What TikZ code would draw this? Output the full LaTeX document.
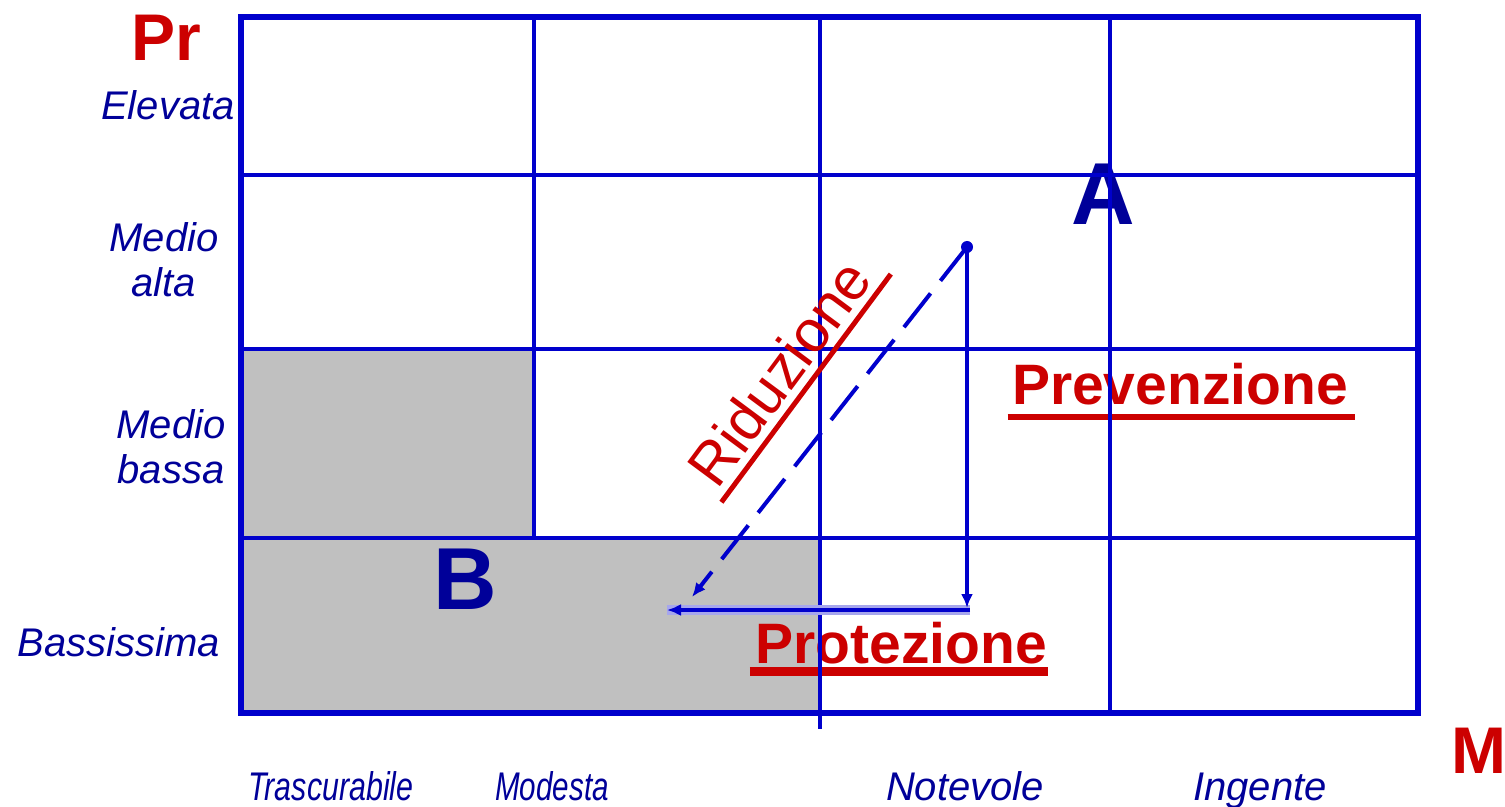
\documentclass[tikz,border=0pt]{standalone}
\usepackage{fontspec}
\setmainfont{Liberation Sans}
\usetikzlibrary{arrows.meta,calc}
\definecolor{gridblue}{RGB}{0,0,204}
\definecolor{navy}{RGB}{0,0,153}
\definecolor{myred}{RGB}{204,0,0}
\definecolor{cellgray}{RGB}{192,192,192}
\begin{document}
\begin{tikzpicture}[x=0.5pt,y=-0.5pt,
  lbl/.style={font=\fontsize{20}{22.5}\selectfont\itshape, text=navy, inner sep=0pt, align=center},
  axislbl/.style={font=\fontsize{33}{36}\selectfont\bfseries, text=myred, inner sep=0pt},
  big/.style={font=\fontsize{44}{48}\selectfont\bfseries, text=navy, inner sep=0pt},
  act/.style={font=\fontsize{28.5}{32}\selectfont\bfseries, text=myred, inner sep=0pt},
  border/.style={draw=gridblue, line width=3pt},
  gline/.style={draw=gridblue, line width=1.75pt},
  arr/.style={draw=gridblue, line width=2pt, -{Latex[length=7pt,width=6pt]}},
  uline/.style={draw=myred}
]
\useasboundingbox (0,0) rectangle (1505,807);
% gray cells
\fill[cellgray] (241,349) rectangle (534,714);
\fill[cellgray] (534,538) rectangle (820,714);
% big letters and actions
\node[big, anchor=base] (A) at (1103,225) {A};
\node[big, anchor=base] (B) at (465,609) {B};
\node[act, anchor=base] (prev) at (1180,405) {Prevenzione};
\draw[uline, line width=3pt] ($(prev.base west)+(-4,12)$) -- ($(prev.base east)+(7,12)$);
\node[act, anchor=base] (prot) at (901,663) {Protezione};
\draw[uline, line width=4.5pt] ($(prot.base west)+(-5,8.5)$) -- ($(prot.base east)+(1,8.5)$);
% grid
\draw[gline] (534,16) -- (534,538);
\draw[gline] (820,16) -- (820,729);
\draw[gline] (1110,16) -- (1110,714);
\draw[gline] (241,175) -- (1419,175);
\draw[gline] (241,349) -- (1419,349);
\draw[gline] (241,538) -- (1419,538);
\draw[border] (241,17) rectangle (1418,713);
% Riduzione
\node[font=\fontsize{29.5}{32}\selectfont, text=myred, inner sep=0pt, rotate=53.4, anchor=base] (rid) at (796,385) {Riduzione};
\coordinate (ru1) at ($(rid.base west)!5pt!-90:(rid.base east)$);
\coordinate (ru2) at ($(rid.base east)!5pt!90:(rid.base west)$);
\draw[uline, line width=2.5pt] ($(ru1)!-3.5pt!(ru2)$) -- ($(ru2)!-7pt!(ru1)$);
% labels
\node[axislbl, anchor=base] (pr) at (166,61) {Pr};
\node[axislbl, anchor=base west] (m) at (1451,773) {M};
\node[lbl, anchor=base] (l1) at (168,120) {Elevata};
\node[lbl] (l2) at (164,260) {Medio\\alta};
\node[lbl] (l3) at (171,447) {Medio\\bassa};
\node[lbl, anchor=base] (l4) at (119,656) {Bassissima};
\node[lbl, anchor=base, xscale=0.76] (c1) at (331,800) {Trascurabile};
\node[lbl, anchor=base, xscale=0.74] (c2) at (552,800) {Modesta};
\node[lbl, anchor=base] (c3) at (965,800) {Notevole};
\node[lbl, anchor=base] (c4) at (1260,800) {Ingente};
% arrows
\coordinate (top) at (967,247);
\coordinate (vend) at (967,608);
\coordinate (corner) at (970,610);
\coordinate (hend) at (667,610);
\coordinate (dend) at (692,597);
\draw[gridblue!35, line width=5pt] (corner) -- (hend);
\draw[arr] (corner) -- (hend);
\draw[arr] (top) -- (vend);
\draw[arr, line width=2pt, dash pattern=on 21.5pt off 8pt] (top) -- (dend);
\fill[gridblue] (top) circle (3pt);
\end{tikzpicture}
\end{document}
